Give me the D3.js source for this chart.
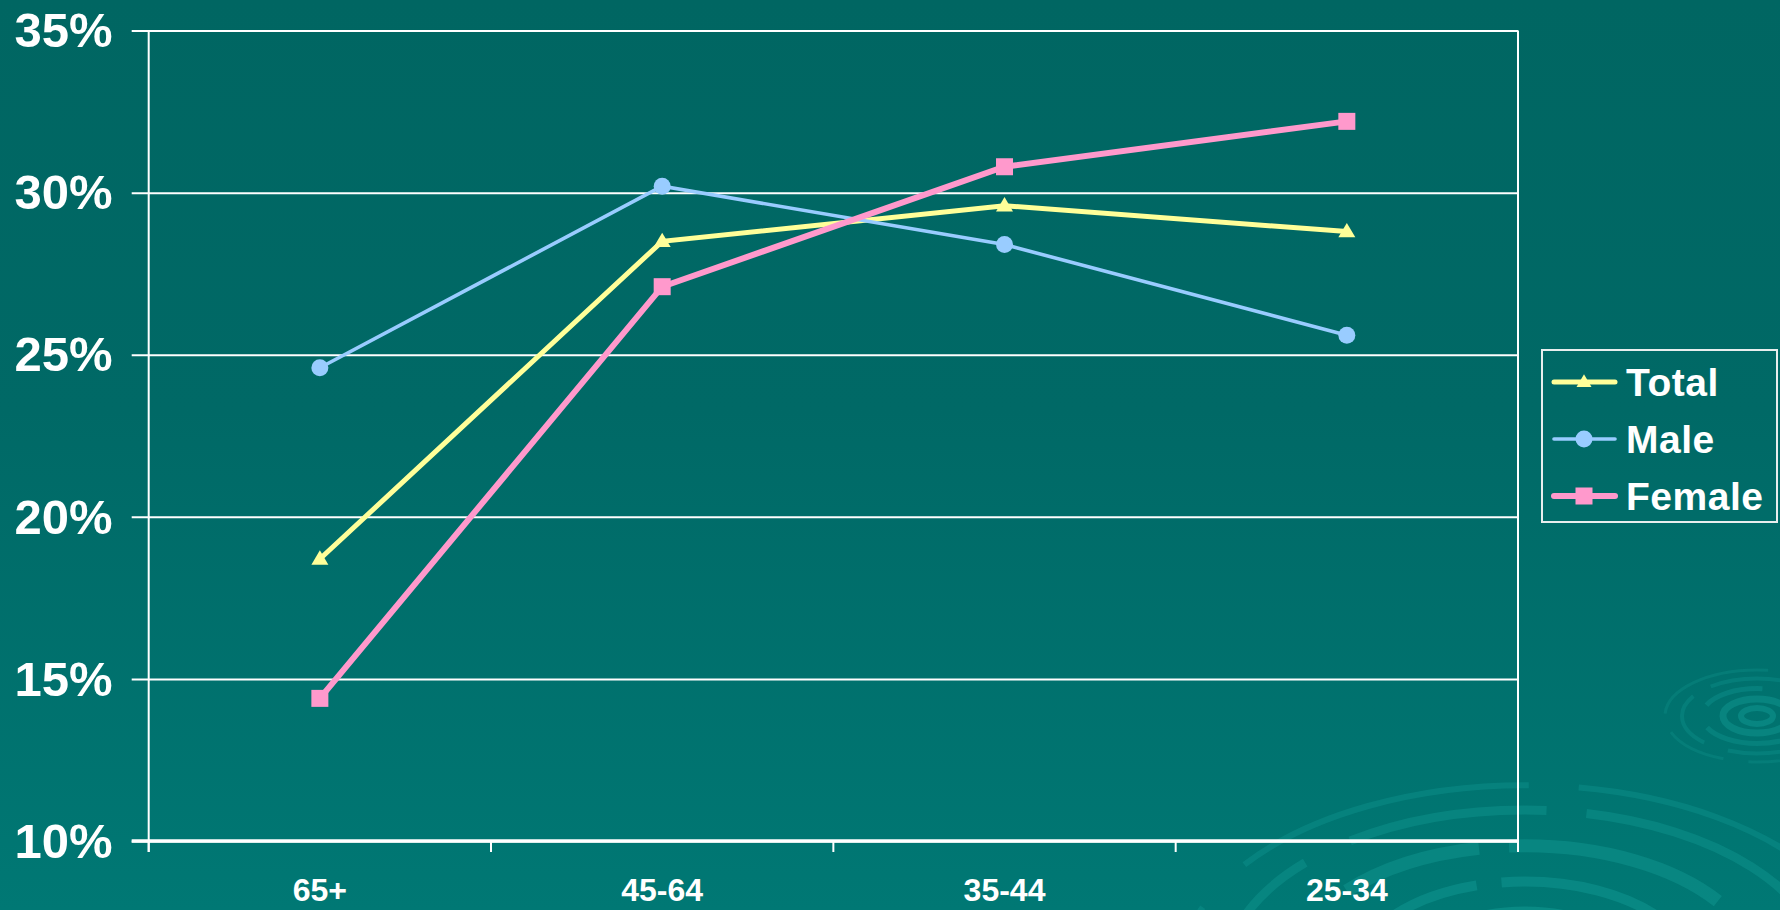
<!DOCTYPE html>
<html>
<head>
<meta charset="utf-8">
<script src="https://cdn.jsdelivr.net/npm/d3@7"></script>
<style>
  html, body { margin: 0; padding: 0; overflow: hidden; }
  svg { display: block; font-family: "Liberation Sans", Arial, sans-serif; }
</style>
</head>
<body>
<svg id="chart"></svg>
<script>
// age groups, left to right
let categories = ['65+', '45-64', '35-44', '25-34']
// percentages
let totalValues = [18.7, 28.5, 29.6, 28.8]
let maleValues = [24.6, 30.2, 28.4, 25.6]
let femaleValues = [14.4, 27.1, 30.8, 32.2]
let yTicks = [10, 15, 20, 25, 30, 35]
let seriesNames = ['Total', 'Male', 'Female']

let width = 1780
let height = 910
let plotLeft = 148.7
let plotRight = 1518
let plotTop = 30.6
let plotBottom = 841

let svg = d3.select('#chart')
    .attr('width', width)
    .attr('height', height)

let series = [
    {name: seriesNames[0], values: totalValues, color: '#ffff99', lw: 5, shape: 'triangle'},
    {name: seriesNames[1], values: maleValues, color: '#99ccff', lw: 3.6, shape: 'circle'},
    {name: seriesNames[2], values: femaleValues, color: '#ff99cc', lw: 6, shape: 'square'}
]

let xScale
let yScale

let drawBackground = () => {
    let defs = svg.append('defs')
    let grad = defs.append('linearGradient')
        .attr('id', 'bg')
        .attr('x1', 0).attr('y1', 0)
        .attr('x2', 0).attr('y2', 1)
    grad.append('stop').attr('offset', '0%').attr('stop-color', '#006662')
    grad.append('stop').attr('offset', '45%').attr('stop-color', '#006966')
    grad.append('stop').attr('offset', '100%').attr('stop-color', '#007874')

    svg.append('rect')
        .attr('width', width)
        .attr('height', height)
        .attr('fill', 'url(#bg)')

    // water ripples in the corner
    let ripples = svg.append('g').attr('fill', 'none')
    let big = [
        {rx: 110, w: 16, dash: 'none', op: 0.6},
        {rx: 170, w: 10, dash: '160 30 90 25', op: 0.55},
        {rx: 235, w: 13, dash: '220 40 140 30', op: 0.5},
        {rx: 300, w: 9, dash: '300 50 200 40', op: 0.45},
        {rx: 345, w: 6, dash: '260 60 300 50', op: 0.4}
    ]
    big.forEach(r => {
        ripples.append('ellipse')
            .attr('cx', 1525).attr('cy', 975)
            .attr('rx', r.rx).attr('ry', r.rx * 0.55)
            .attr('stroke', '#0f9690')
            .attr('stroke-width', r.w)
            .attr('stroke-dasharray', r.dash)
            .attr('opacity', r.op)
    })
    let small = [
        {rx: 16, w: 6, op: 0.55},
        {rx: 34, w: 7, op: 0.5},
        {rx: 55, w: 5, op: 0.4},
        {rx: 75, w: 4, op: 0.35},
        {rx: 92, w: 3, op: 0.3}
    ]
    small.forEach(r => {
        ripples.append('ellipse')
            .attr('cx', 1757).attr('cy', 716)
            .attr('rx', r.rx).attr('ry', r.rx * 0.5)
            .attr('stroke', '#0f9690')
            .attr('stroke-width', r.w)
            .attr('stroke-dasharray', r.rx > 50 ? '120 25 60 20' : 'none')
            .attr('opacity', r.op)
    })
}

let generateScales = () => {
    xScale = d3.scaleBand()
        .domain(categories)
        .range([plotLeft, plotRight])
    yScale = d3.scaleLinear()
        .domain([10, 35])
        .range([plotBottom, plotTop])
}

let generateAxes = () => {
    // gridlines, starting a bit left of the axis like the tick marks
    let grid = d3.axisRight(yScale)
        .tickValues(yTicks)
        .tickSize(plotRight - plotLeft + 17)
        .tickFormat('')
    svg.append('g')
        .attr('transform', 'translate(' + (plotLeft - 17) + ',0)')
        .call(grid)
        .call(g => g.select('.domain').remove())
        .call(g => g.selectAll('line').attr('stroke', '#ffffff').attr('stroke-width', 2))

    let yAxis = d3.axisLeft(yScale)
        .tickValues(yTicks)
        .tickSize(0)
        .tickPadding(36)
        .tickFormat(d => d + '%')
    svg.append('g')
        .attr('transform', 'translate(' + plotLeft + ',0)')
        .call(yAxis)
        .call(g => g.select('.domain').remove())
        .call(g => g.selectAll('text')
            .attr('fill', '#ffffff')
            .attr('font-size', 49)
            .attr('font-weight', 'bold')
            .attr('font-family', '"Liberation Sans", Arial, sans-serif')
            .attr('dy', '0.33em'))

    // left and right frame lines
    svg.append('line')
        .attr('x1', plotLeft).attr('x2', plotLeft)
        .attr('y1', plotTop).attr('y2', plotBottom + 11)
        .attr('stroke', '#ffffff').attr('stroke-width', 2)
    svg.append('line')
        .attr('x1', plotRight).attr('x2', plotRight)
        .attr('y1', plotTop).attr('y2', plotBottom + 11)
        .attr('stroke', '#ffffff').attr('stroke-width', 2)

    // category boundaries get the tick marks
    let bounds = categories.map(c => xScale(c)).concat([plotRight])
    svg.append('g').selectAll('line')
        .data(bounds)
        .enter()
        .append('line')
        .attr('x1', d => d).attr('x2', d => d)
        .attr('y1', plotBottom).attr('y2', plotBottom + 11)
        .attr('stroke', '#ffffff').attr('stroke-width', 2)

    svg.append('line')
        .attr('x1', plotLeft - 17).attr('x2', plotRight)
        .attr('y1', plotBottom).attr('y2', plotBottom)
        .attr('stroke', '#ffffff').attr('stroke-width', 3.5)

    let xAxis = d3.axisBottom(xScale)
        .tickSize(0)
        .tickPadding(0)
    svg.append('g')
        .attr('transform', 'translate(0,' + plotBottom + ')')
        .call(xAxis)
        .call(g => g.select('.domain').remove())
        .call(g => g.selectAll('text')
            .attr('fill', '#ffffff')
            .attr('font-size', 32)
            .attr('font-weight', 'bold')
            .attr('font-family', '"Liberation Sans", Arial, sans-serif')
            .attr('dy', 0)
            .attr('y', 60))
}

let drawMarker = (g, shape, color, cx, cy, size) => {
    if (shape === 'circle') {
        g.append('circle')
            .attr('cx', cx).attr('cy', cy).attr('r', size / 2)
            .attr('fill', color)
    } else if (shape === 'square') {
        g.append('rect')
            .attr('x', cx - size / 2).attr('y', cy - size / 2)
            .attr('width', size).attr('height', size)
            .attr('fill', color)
    } else {
        let h = size * 0.85
        g.append('path')
            .attr('d', 'M' + cx + ',' + (cy - h * 0.6) +
                'L' + (cx + size / 2) + ',' + (cy + h * 0.4) +
                'L' + (cx - size / 2) + ',' + (cy + h * 0.4) + 'Z')
            .attr('fill', color)
    }
}

let drawLines = () => {
    let line = d3.line()
        .x((d, i) => xScale(categories[i]) + xScale.bandwidth() / 2)
        .y(d => yScale(d))

    series.forEach(s => {
        let g = svg.append('g')
        g.append('path')
            .datum(s.values)
            .attr('d', line)
            .attr('fill', 'none')
            .attr('stroke', s.color)
            .attr('stroke-width', s.lw)
            .attr('stroke-linejoin', 'miter')
        s.values.forEach((v, i) => {
            drawMarker(g, s.shape, s.color,
                xScale(categories[i]) + xScale.bandwidth() / 2, yScale(v), 17)
        })
    })
}

let drawLegend = () => {
    let lg = svg.append('g')
    lg.append('rect')
        .attr('x', 1542).attr('y', 350)
        .attr('width', 235).attr('height', 172)
        .attr('fill', 'none')
        .attr('stroke', '#e8eeee')
        .attr('stroke-width', 2)

    series.forEach((s, i) => {
        let cy = 382 + i * 57
        lg.append('line')
            .attr('x1', 1554).attr('x2', 1615)
            .attr('y1', cy).attr('y2', cy)
            .attr('stroke', s.color)
            .attr('stroke-width', s.lw)
            .attr('stroke-linecap', 'round')
        drawMarker(lg, s.shape, s.color, 1584, cy, s.shape === 'triangle' ? 15 : 17)
        lg.append('text')
            .attr('x', 1626)
            .attr('y', cy + 14)
            .attr('fill', '#ffffff')
            .attr('font-size', 39)
            .attr('font-weight', 'bold')
            .attr('letter-spacing', 0.5)
            .text(s.name)
    })
}

drawBackground()
generateScales()
generateAxes()
drawLines()
drawLegend()
</script>
</body>
</html>
